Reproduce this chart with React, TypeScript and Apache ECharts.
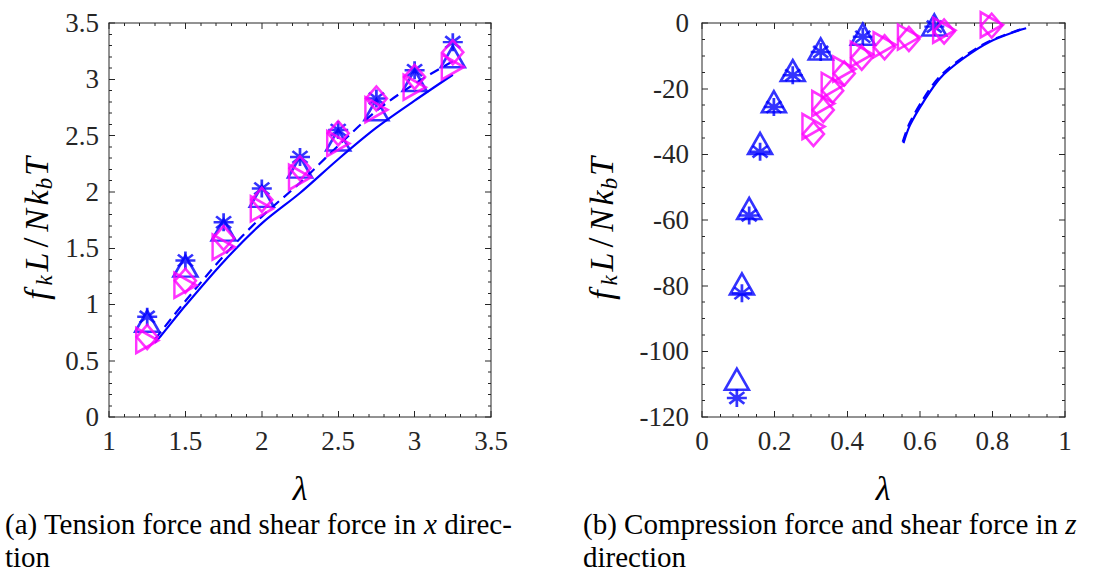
import React, { useEffect, useRef } from "react";
import * as echarts from "echarts";

// (a) tension / shear in x direction
const lambdaTension = [1.25, 1.5, 1.75, 2, 2.25, 2.5, 2.75, 3, 3.25];
const tensionAsterisk = [0.89, 1.39, 1.73, 2.03, 2.31, 2.55, 2.83, 3.08, 3.33];
const tensionTriangle = [0.85, 1.34, 1.66, 1.96, 2.22, 2.46, 2.73, 2.99, 3.2];
const shearXDiamond = [0.71, 1.21, 1.59, 1.93, 2.21, 2.52, 2.83, 3.02, 3.24];
const shearXTriangle = [0.68, 1.17, 1.51, 1.85, 2.13, 2.43, 2.73, 2.93, 3.11];

const tensionSolidX = [1.3, 1.345, 1.5, 1.75, 2, 2.25, 2.5, 2.75, 3, 3.25];
const tensionSolidY = [0.66, 0.73, 0.99, 1.38, 1.72, 1.99, 2.29, 2.57, 2.81, 3.04];
const tensionDashedX = [1.3, 1.5, 1.75, 2, 2.25, 2.5, 2.75, 3, 3.25];
const tensionDashedY = [0.69, 1.03, 1.43, 1.78, 2.08, 2.41, 2.72, 2.96, 3.16];

// (b) compression / shear in z direction
const lambdaCompression = [0.096, 0.11, 0.13, 0.16, 0.198, 0.25, 0.327, 0.443, 0.64];
const compressionTriangle = [-108.5, -79.5, -56.5, -36.7, -24.0, -14.5, -7.9, -3.4, -0.6];
const compressionAsterisk = [-114.2, -82.3, -58.6, -39.2, -25.6, -15.9, -8.8, -4.2, -1.1];

const lambdaShearZ = [0.307, 0.334, 0.36, 0.392, 0.44, 0.503, 0.57, 0.667, 0.798];
const shearZDiamond = [-33.8, -26.5, -20.6, -15.4, -10.6, -7.4, -4.9, -2.6, -0.8];
const shearZTriangle = [-31.5, -24.5, -19.0, -14.0, -9.5, -6.6, -4.3, -2.2, -0.5];

const compressionSolidX = [0.555, 0.573, 0.61, 0.656, 0.72, 0.793, 0.876, 0.893];
const compressionSolidY = [-36.6, -31.1, -24.0, -16.8, -10.8, -5.7, -2.1, -1.6];
const compressionDashedX = [0.553, 0.571, 0.607, 0.653, 0.717, 0.79, 0.873, 0.89];
const compressionDashedY = [-36.2, -30.7, -23.6, -16.5, -10.6, -5.6, -2.1, -1.6];

const captionA = "(a) Tension force and shear force in ";
const captionB = "(b) Compression force and shear force in ";

const BLUE = "#0000ff";
const MAGENTA = "#ff00ff";
const AXIS = "#262626";
const SERIF = "Liberation Serif";
const ASTERISK = "path://M0,-10L0,10M-10,0L10,0M-7.5,-6.5L7.5,6.5M-7.5,6.5L7.5,-6.5";

// the chart is laid out at twice the size and shown at half scale
const K = 2;
const px = (v: number) => v * K;

const pairs = (xs: number[], ys: number[]) => xs.map((x, i) => [x, ys[i]]);

function minor(splitNumber: number) {
  return { show: true, splitNumber, length: px(3), lineStyle: { color: AXIS, width: px(1) } };
}

function tickLabel(margin: number) {
  return { color: AXIS, fontFamily: SERIF, fontSize: px(27), margin: px(margin) };
}

function axis(extra: any) {
  return {
    type: "value",
    axisLine: { show: true, onZero: false, lineStyle: { color: AXIS, width: px(1) } },
    axisTick: { show: true, inside: true, length: px(6), lineStyle: { color: AXIS, width: px(1) } },
    splitLine: { show: false },
    minorSplitLine: { show: false },
    axisLabel: tickLabel(10),
    ...extra,
  };
}

function scatter(name: string, xi: number, data: number[][], symbol: string, size: number[], color: string, rotate = 0) {
  return {
    name,
    type: "scatter",
    xAxisIndex: xi,
    yAxisIndex: xi,
    data,
    symbol,
    symbolSize: size.map(px),
    symbolRotate: rotate,
    itemStyle: { color: "rgba(0,0,0,0)", borderColor: color, borderWidth: px(2.6) },
    silent: true,
    z: 3,
  };
}

function line(name: string, xi: number, data: number[][], type: any) {
  return {
    name,
    type: "line",
    xAxisIndex: xi,
    yAxisIndex: xi,
    data,
    symbol: "none",
    showSymbol: false,
    smooth: 0.3,
    lineStyle: { color: BLUE, width: px(2.2), type: Array.isArray(type) ? type.map(px) : type },
    silent: true,
    z: 2,
  };
}

function glyph(size: number, width: number, italic: boolean, drop = 0) {
  const s: any = { fontFamily: SERIF, fontSize: px(size), width: px(width), color: "#000" };
  if (italic) s.fontStyle = "italic";
  if (drop) s.padding = [px(drop), 0, 0, 0];
  return s;
}

const yLabelRich = {
  f: glyph(34, 15, true),
  k: glyph(23, 14, true, 16),
  L: glyph(34, 23, true),
  s: glyph(36, 16, false),
  N: glyph(34, 28, true),
  k2: glyph(34, 17, true),
  b: glyph(23, 12, true, 16),
  T: glyph(34, 22, true),
};
const yLabelText = "{f|f}{k|k}{L|L}{s|/}{N|N}{k2|k}{b|b}{T|T}";

function yLabel(x: number, y: number) {
  return {
    type: "text",
    x: px(x),
    y: px(y),
    rotation: Math.PI / 2,
    style: { text: yLabelText, rich: yLabelRich, align: "center", verticalAlign: "middle" },
  };
}

function lambdaLabel(x: number, y: number) {
  return {
    type: "text",
    x: px(x),
    y: px(y),
    style: {
      text: "λ",
      fontFamily: SERIF,
      fontStyle: "italic",
      fontSize: px(34),
      fill: "#000",
      align: "center",
      verticalAlign: "middle",
    },
  };
}

const captionRich = {
  r: { fontFamily: SERIF, fontSize: px(29), lineHeight: px(33), color: "#000" },
  i: { fontFamily: SERIF, fontSize: px(29), fontStyle: "italic", lineHeight: px(33), color: "#000" },
};

function caption(x: number, text: string) {
  return { type: "text", x: px(x), y: px(507), style: { text, rich: captionRich } };
}

const option = {
  animation: false,
  backgroundColor: "#ffffff",
  textStyle: { fontFamily: SERIF },
  grid: [
    { left: px(109), top: px(23), width: px(382), height: px(394) },
    { left: px(702), top: px(23), width: px(363), height: px(394) },
  ],
  xAxis: [
    axis({ gridIndex: 0, position: "bottom", min: 1, max: 3.5, interval: 0.5, minorTick: minor(5) }),
    axis({ gridIndex: 0, position: "top", min: 1, max: 3.5, interval: 0.5, axisLabel: { show: false }, minorTick: minor(5) }),
    axis({ gridIndex: 1, position: "bottom", min: 0, max: 1, interval: 0.2, minorTick: minor(4) }),
    axis({ gridIndex: 1, position: "top", min: 0, max: 1, interval: 0.2, axisLabel: { show: false }, minorTick: minor(4) }),
  ],
  yAxis: [
    axis({ gridIndex: 0, position: "left", min: 0, max: 3.5, interval: 0.5, minorTick: minor(5) }),
    axis({ gridIndex: 0, position: "right", min: 0, max: 3.5, interval: 0.5, axisLabel: { show: false }, minorTick: minor(5) }),
    axis({ gridIndex: 1, position: "left", min: -120, max: 0, interval: 20, axisLabel: tickLabel(13), minorTick: minor(4) }),
    axis({ gridIndex: 1, position: "right", min: -120, max: 0, interval: 20, axisLabel: { show: false }, minorTick: minor(4) }),
  ],
  series: [
    line("tension model", 0, pairs(tensionSolidX, tensionSolidY), "solid"),
    line("shear model x", 0, pairs(tensionDashedX, tensionDashedY), [10, 6]),
    scatter("tension asterisk", 0, pairs(lambdaTension, tensionAsterisk), ASTERISK, [20, 18], BLUE),
    scatter("tension triangle", 0, pairs(lambdaTension, tensionTriangle), "triangle", [24, 21], BLUE),
    scatter("shear x diamond", 0, pairs(lambdaTension, shearXDiamond), "diamond", [21, 24], MAGENTA),
    scatter("shear x triangle", 0, pairs(lambdaTension, shearXTriangle), "triangle", [25, 22], MAGENTA, -90),

    line("compression model", 2, pairs(compressionSolidX, compressionSolidY), "solid"),
    line("shear model z", 2, pairs(compressionDashedX, compressionDashedY), [10, 6]),
    scatter("compression asterisk", 2, pairs(lambdaCompression, compressionAsterisk), ASTERISK, [20, 18], BLUE),
    scatter("compression triangle", 2, pairs(lambdaCompression, compressionTriangle), "triangle", [24, 21], BLUE),
    scatter("shear z diamond", 2, pairs(lambdaShearZ, shearZDiamond), "diamond", [21, 24], MAGENTA),
    scatter("shear z triangle", 2, pairs(lambdaShearZ, shearZTriangle), "triangle", [25, 22], MAGENTA, -90),
  ],
  graphic: [
    yLabel(36, 229),
    yLabel(601, 229),
    lambdaLabel(300, 488),
    lambdaLabel(883, 488),
    caption(5, `{r|${captionA}}{i|x}{r| direc-}\n{r|tion}`),
    caption(583, `{r|${captionB}}{i|z}\n{r|direction}`),
  ],
};

export default function App() {
  const ref = useRef<HTMLDivElement>(null);

  useEffect(() => {
    if (!ref.current) return;
    const chart = echarts.init(ref.current, undefined, { renderer: "svg" });
    chart.setOption(option);
    return () => chart.dispose();
  }, []);

  return (
    <div style={{ position: "absolute", left: 0, top: 0, width: 1096, height: 574, overflow: "hidden", background: "#fff" }}>
      <div
        ref={ref}
        style={{ width: px(1096), height: px(574), transform: `scale(${1 / K})`, transformOrigin: "0 0" }}
      />
    </div>
  );
}
